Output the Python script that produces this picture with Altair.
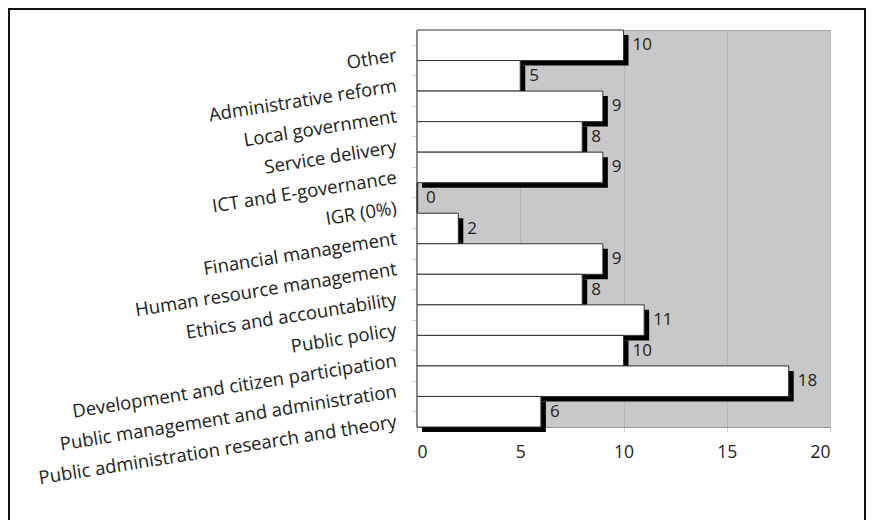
import altair as alt
import pandas as pd

categories = [
    "Other",
    "Administrative reform",
    "Local government",
    "Service delivery",
    "ICT and E-governance",
    "IGR (0%)",
    "Financial management",
    "Human resource management",
    "Ethics and accountability",
    "Public policy",
    "Development and citizen participation",
    "Public management and administration",
    "Public administration research and theory",
]
values = [10, 5, 9, 8, 9, 0, 2, 9, 8, 11, 10, 18, 6]
x_ticks = [0, 5, 10, 15, 20]

df = pd.DataFrame({"category": categories, "value": values})

FONT = "Open Sans"
PLOT_W, PLOT_H = 413, 397
PAD_L, PAD_T, PAD_R, PAD_B = 409, 22, 36, 93

y_enc = alt.Y(
    "category:N",
    sort=categories,
    scale=alt.Scale(paddingInner=0, paddingOuter=0),
    axis=alt.Axis(
        title=None,
        labelAngle=-9,
        labelAlign="right",
        labelBaseline="middle",
        labelFont=FONT,
        labelFontSize=18.5,
        labelColor="#222222",
        labelPadding=16,
        labelOffset=10,
        domainColor="#555555",
        domainWidth=1.5,
        tickColor="#cccccc",
        tickSize=5,
        labelLimit=500,
    ),
)
x_enc = alt.X(
    "value:Q",
    scale=alt.Scale(domain=[0, 20], nice=False),
    axis=alt.Axis(
        title=None,
        values=x_ticks,
        grid=True,
        gridColor="#b6b6b9",
        domainColor="#9a9a9a",
        tickColor="#cccccc",
        tickSize=5,
        labelFont=FONT,
        labelFontSize=17.5,
        labelColor="#222222",
        labelPadding=11,
    ),
)

base = alt.Chart(df)

border = alt.Chart(df).mark_rect(
    fillOpacity=0, stroke="#111111", strokeWidth=2
).encode(
    x=alt.value(-PAD_L + 1),
    x2=alt.value(PLOT_W + PAD_R - 1),
    y=alt.value(-PAD_T + 1),
    y2=alt.value(PLOT_H + PAD_B + 20),
)

shadow = base.mark_bar(color="#000000", xOffset=5, yOffset=5).encode(
    x=x_enc, y=y_enc
)
bars = base.mark_bar(fill="#ffffff", stroke="#333333", strokeWidth=1).encode(
    x=x_enc, y=y_enc
)
labels = base.mark_text(
    align="left", baseline="middle", dx=9, font=FONT, fontSize=17, color="#222222"
).encode(x=x_enc, y=y_enc, text="value:Q")

chart = (
    alt.layer(shadow, bars, labels, border)
    .properties(
        width=PLOT_W,
        height=PLOT_H,
        autosize=alt.AutoSizeParams(type="none"),
        padding={"left": PAD_L, "top": PAD_T, "right": PAD_R, "bottom": PAD_B},
        background="#ffffff",
    )
    .configure_view(fill="#c8c8ca", stroke="#a5a5a5", strokeWidth=1)
)

chart.save("out.html", embed_options={"renderer": "svg", "actions": False})
